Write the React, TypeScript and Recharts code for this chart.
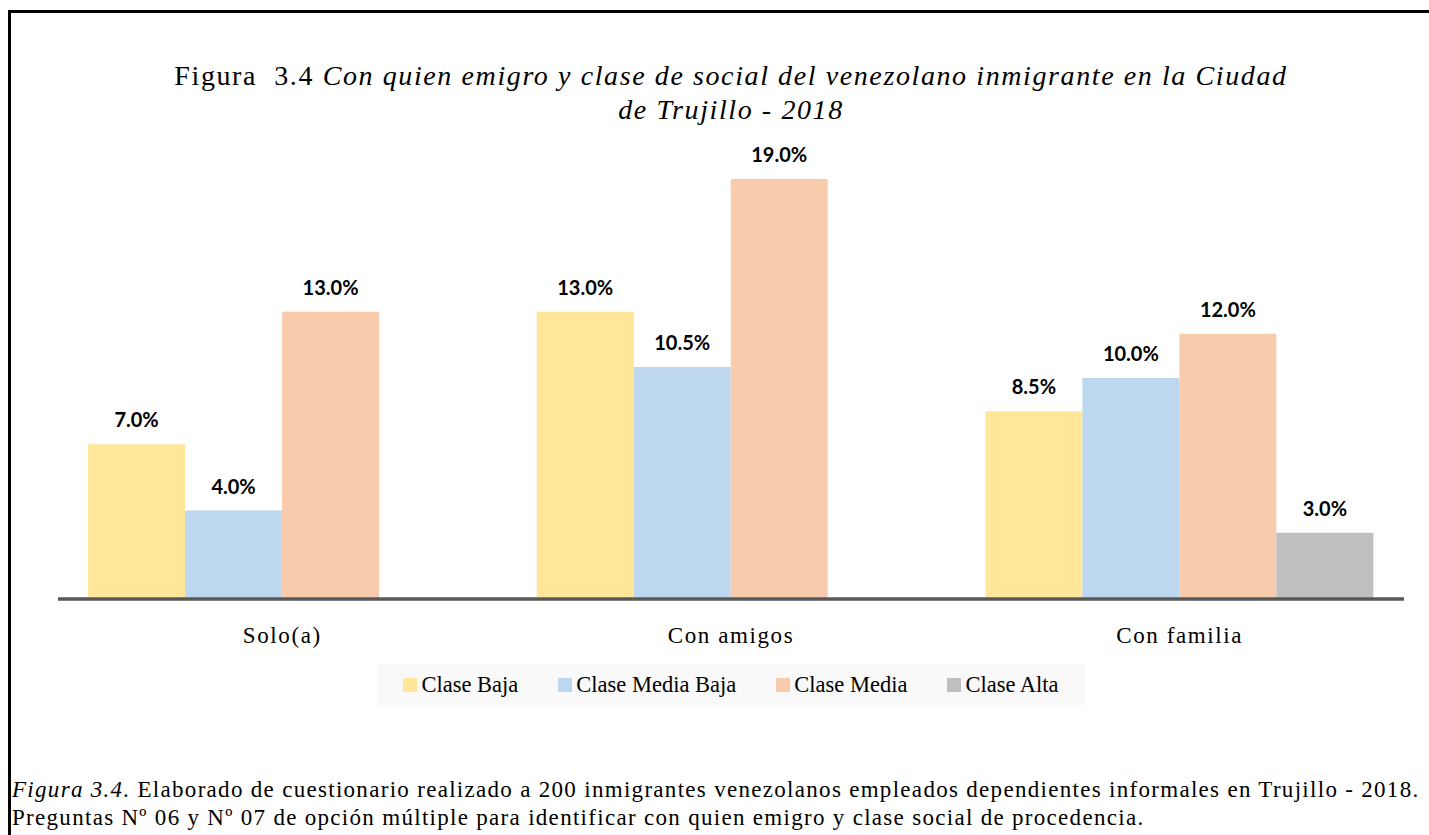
import { BarChart, Bar, XAxis, YAxis, LabelList } from 'recharts';

const categories = ['Solo(a)', 'Con amigos', 'Con familia'];
const claseBaja = [7.0, 13.0, 8.5];
const claseMediaBaja = [4.0, 10.5, 10.0];
const claseMedia = [13.0, 19.0, 12.0];
const claseAlta = [0.0, 0.0, 3.0];

const seriesKeys = ['baja', 'mediaBaja', 'media', 'alta'];
const seriesNames = ['Clase Baja', 'Clase Media Baja', 'Clase Media', 'Clase Alta'];
const seriesColors = ['#FFE699', '#BDD7EE', '#F8CBAD', '#BFBFBF'];

const data = categories.map((name, i) => ({
  name,
  baja: claseBaja[i],
  mediaBaja: claseMediaBaja[i],
  media: claseMedia[i],
  alta: claseAlta[i],
}));

const serif = '"Liberation Serif", "Times New Roman", serif';

export default function App() {
  return (
    <div style={{ position: 'absolute', left: 0, top: 0, width: 1429, height: 835, overflow: 'hidden', background: '#fff', fontFamily: serif }}>
      {/* frame, cut off at right and bottom like the source */}
      <div style={{ position: 'absolute', left: 8, top: 10, width: 1500, height: 900, border: '3px solid #000' }} />

      <div style={{ position: 'absolute', left: 0, top: 59, width: 1462, textAlign: 'center', fontSize: 28, lineHeight: '34px', letterSpacing: 1.6, color: '#000' }}>
        <span>Figura&nbsp; 3.4 </span>
        <i>Con quien emigro y clase de social del venezolano inmigrante en la Ciudad</i>
        <br />
        <i>de Trujillo - 2018</i>
      </div>

      <BarChart
        width={1429}
        height={835}
        data={data}
        margin={{ top: 157, right: 25, left: 58, bottom: 176 }}
        barCategoryGap="6.7%"
        barGap={0}
        style={{ position: 'absolute', left: 0, top: 0 }}
      >
        <XAxis
          dataKey="name"
          height={60}
          tickLine={false}
          axisLine={{ stroke: '#595959', strokeWidth: 3.5 }}
          tickMargin={22}
          tick={{ fill: '#000', fontSize: 23, fontFamily: serif, letterSpacing: 1.6 }}
        />
        <YAxis hide domain={[0, 20]} />
        {seriesKeys.map((k, i) => (
          <Bar key={k} dataKey={k} name={seriesNames[i]} fill={seriesColors[i]} isAnimationActive={false}>
            <LabelList
              dataKey={k}
              position="top"
              offset={17}
              formatter={(v: number) => v.toFixed(1) + '%'}
              style={{ fill: '#000', fontSize: 20, fontWeight: 700, fontFamily: 'Lato, "Open Sans", sans-serif' }}
            />
          </Bar>
        ))}
      </BarChart>

      {/* legend */}
      <div style={{ position: 'absolute', left: 377, top: 664, width: 708, height: 41, background: '#F9F9F9', display: 'flex', alignItems: 'center', justifyContent: 'center', gap: 40, fontSize: 22.5, color: '#000' }}>
        {seriesNames.map((n, i) => (
          <div key={n} style={{ display: 'flex', alignItems: 'center' }}>
            <span style={{ display: 'inline-block', width: 14, height: 14, background: seriesColors[i], marginRight: 4 }} />
            <span>{n}</span>
          </div>
        ))}
      </div>

      <div style={{ position: 'absolute', left: 12, top: 776, width: 1420, fontSize: 23, lineHeight: '28px', letterSpacing: 1.3, color: '#000', whiteSpace: 'nowrap' }}>
        <div><i>Figura 3.4.</i> Elaborado de cuestionario realizado a 200 inmigrantes venezolanos empleados dependientes informales en Trujillo - 2018.</div>
        <div>Preguntas Nº 06 y Nº 07 de opción múltiple para identificar con quien emigro y clase social de procedencia.</div>
      </div>
    </div>
  );
}
